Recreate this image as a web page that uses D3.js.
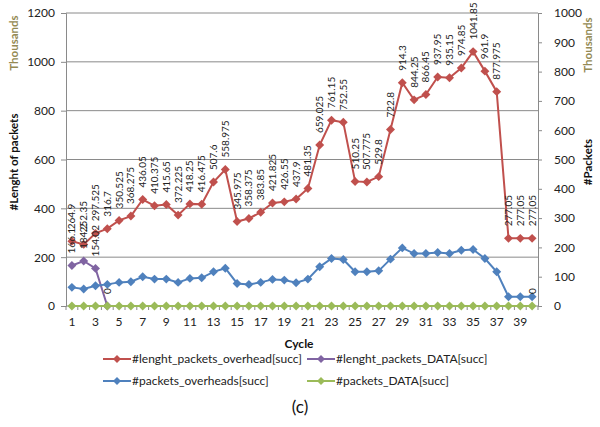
<!DOCTYPE html>
<html>
<head>
<meta charset="utf-8">
<script src="https://cdn.jsdelivr.net/npm/d3@7"></script>
<style>
  body { margin: 0; background: #fff; }
  svg { display: block; }
  text { font-family: Lato, "Open Sans", sans-serif; }
</style>
</head>
<body>
<svg id="chart" width="600" height="427"></svg>
<script>
// ---- data ----
const cycles = d3.range(1, 41);
const lenOverhead = [264.9, 252.35, 297.525, 316.7, 350.525, 368.275, 436.05, 410.375, 415.65, 372.225,
  418.25, 416.475, 507.6, 558.975, 345.975, 358.375, 383.85, 421.825, 426.55, 437.9,
  481.35, 659.025, 761.15, 752.55, 510.25, 507.775, 529.8, 722.8, 914.3, 844.25,
  866.45, 937.95, 935.15, 974.85, 1041.85, 961.9, 877.975, 277.05, 277.05, 277.05];
const lenData = [166.1, 184.2, 154.02, 0];
const pktOverhead = [63.6, 57.8, 69, 73.8, 80.6, 82.7, 99.7, 91.8, 91.8, 80.6,
  94.2, 96.3, 116.7, 129, 77, 73.8, 80.6, 90.8, 88.4, 79.3,
  91.8, 133.7, 162, 158.7, 116.7, 116.7, 120, 159.9, 198.3, 179,
  179, 182.6, 179, 190.5, 192.8, 162, 116.7, 31.6, 31.6, 31.6];
const pktData = cycles.map(() => 0);
const leftTicks = [0, 200, 400, 600, 800, 1000, 1200];
const rightTicks = [0, 100, 200, 300, 400, 500, 600, 700, 800, 900, 1000];
const xTickLabels = d3.range(1, 40, 2);
const seriesNames = ["#lenght_packets_overhead[succ]", "#lenght_packets_DATA[succ]",
  "#packets_overheads[succ]", "#packets_DATA[succ]"];
const colors = ["#C0504D", "#8064A2", "#4F81BD", "#9BBB59"];

// ---- layout ----
const svg = d3.select("#chart");
const L = 66, R = 538, T = 13, B = 306;
const x = d3.scaleBand().domain(cycles).range([L, R]);
const cx = d => x(d) + x.bandwidth() / 2;
const yL = d3.scaleLinear().domain([0, 1200]).range([B, T]);
const yR = d3.scaleLinear().domain([0, 1000]).range([B, T]);
const gridColor = "#8a8a8a";

// gridlines
svg.append("g").selectAll("line").data(leftTicks.slice(1)).join("line")
  .attr("x1", L).attr("x2", R).attr("y1", d => yL(d)).attr("y2", d => yL(d))
  .attr("stroke", gridColor).attr("stroke-width", 1);

// left axis
const gl = svg.append("g").attr("transform", `translate(${L},0)`)
  .call(d3.axisLeft(yL).tickValues(leftTicks).tickFormat(d3.format("d")).tickSize(5).tickPadding(6));
// right axis
const gr = svg.append("g").attr("transform", `translate(${R},0)`)
  .call(d3.axisRight(yR).tickValues(rightTicks).tickFormat(d3.format("d")).tickSize(4).tickPadding(12));
// bottom axis
const gb = svg.append("g").attr("transform", `translate(0,${B})`)
  .call(d3.axisBottom(x).tickValues(xTickLabels).tickSize(0).tickPadding(11));
// category tick marks
svg.append("g").selectAll("line").data(d3.range(0, 41)).join("line")
  .attr("x1", i => L + i * x.bandwidth()).attr("x2", i => L + i * x.bandwidth())
  .attr("y1", B).attr("y2", B + 4).attr("stroke", gridColor);

[gl, gr, gb].forEach(g => {
  g.selectAll("path.domain").attr("stroke", gridColor);
  g.selectAll(".tick line").attr("stroke", gridColor);
  g.selectAll("text").attr("font-size", 12).attr("fill", "#222")
    .attr("font-family", "Lato, sans-serif");
});
gb.selectAll("path.domain").attr("d", `M${L},0H${R}`);

// axis titles
function vtitle(xp, yp, txt, opts) {
  svg.append("text").attr("transform", `translate(${xp},${yp}) rotate(-90)`)
    .attr("text-anchor", "middle").attr("font-size", opts.size)
    .attr("font-weight", opts.weight).attr("fill", opts.color).text(txt);
}
vtitle(18, 43, "Thousands", {size: 11.5, weight: "bold", color: "#948A54"});
vtitle(18, 162, "#Lenght of packets", {size: 11.5, weight: "bold", color: "#111"});
vtitle(592, 45, "Thousands", {size: 11.5, weight: "bold", color: "#948A54"});
vtitle(592, 162, "#Packets", {size: 11.5, weight: "bold", color: "#111"});
svg.append("text").attr("x", 299).attr("y", 348).attr("text-anchor", "middle")
  .attr("font-size", 12).attr("font-weight", "bold").attr("fill", "#111").text("Cycle");

// series
const series = [
  {vals: lenOverhead, y: yL, color: colors[0], labels: lenOverhead.map(String)},
  {vals: lenData, y: yL, color: colors[1], labels: lenData.map(String)},
  {vals: pktOverhead, y: yR, color: colors[2], labels: []},
  {vals: pktData, y: yR, color: colors[3], labels: pktData.map((v, i) => i === 39 ? String(v) : null)}
];
series.forEach(s => {
  const pts = s.vals.map((v, i) => ({c: cycles[i], v, lab: s.labels[i]}))
    .filter(p => p.v !== null && p.v !== undefined);
  const line = d3.line().x(p => cx(p.c)).y(p => s.y(p.v));
  svg.append("path").datum(pts).attr("d", line).attr("fill", "none")
    .attr("stroke", s.color).attr("stroke-width", 2);
  svg.append("g").selectAll("path").data(pts).join("path")
    .attr("d", d3.symbol().type(d3.symbolSquare).size(40))
    .attr("transform", p => `translate(${cx(p.c)},${s.y(p.v)}) rotate(45)`)
    .attr("fill", s.color);
});
// data labels (drawn after markers)
series.forEach(s => {
  const pts = s.vals.map((v, i) => ({c: cycles[i], v, lab: s.labels[i]}))
    .filter(p => p.lab);
  svg.append("g").selectAll("text").data(pts).join("text")
    .attr("transform", p => `translate(${cx(p.c) + 3.5},${s.y(p.v) - 12}) rotate(-90)`)
    .attr("font-size", 10).attr("fill", "#222").text(p => p.lab);
});

// legend
const legendItems = [
  {name: seriesNames[0], color: colors[0], x: 103, y: 359},
  {name: seriesNames[1], color: colors[1], x: 307, y: 359},
  {name: seriesNames[2], color: colors[2], x: 103, y: 381},
  {name: seriesNames[3], color: colors[3], x: 307, y: 381}
];
const lg = svg.append("g").selectAll("g").data(legendItems).join("g")
  .attr("transform", d => `translate(${d.x},${d.y})`);
lg.append("line").attr("x1", 0).attr("x2", 28).attr("stroke", d => d.color).attr("stroke-width", 2);
lg.append("path").attr("d", d3.symbol().type(d3.symbolSquare).size(32))
  .attr("transform", "translate(14,0) rotate(45)").attr("fill", d => d.color);
lg.append("text").attr("x", 29).attr("dy", "0.35em").attr("font-size", 12)
  .attr("fill", "#222").text(d => d.name);

// caption
svg.append("text").attr("x", 300).attr("y", 413).attr("text-anchor", "middle")
  .attr("font-family", "'Liberation Serif', 'DejaVu Serif', serif")
  .attr("font-size", 17).attr("fill", "#111").text("(c)");
</script>
</body>
</html>
